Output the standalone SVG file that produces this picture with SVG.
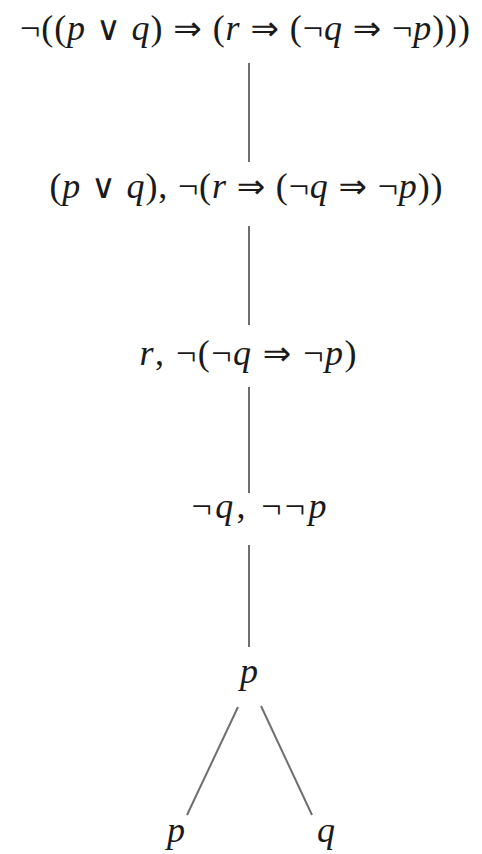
<svg xmlns="http://www.w3.org/2000/svg" width="482" height="854" viewBox="0 0 482 854">
<style>
.t{font-family:'Liberation Serif','Times New Roman',serif;font-size:36px;fill:#1a1a1a;text-anchor:middle}
.s{font-family:'DejaVu Sans',sans-serif;font-size:34px}
.i{font-style:italic}
.e{stroke:#6e6e6e;stroke-width:2;fill:none}
</style>
<rect width="482" height="854" fill="#fff"/>
<g id="connectors">
<line class="e" x1="249" y1="63" x2="249" y2="162"/>
<line class="e" x1="249" y1="226" x2="249" y2="325"/>
<line class="e" x1="249" y1="387" x2="249" y2="493"/>
<line class="e" x1="249" y1="545" x2="249" y2="647"/>
<line class="e" x1="238" y1="707" x2="187" y2="815"/>
<line class="e" x1="261" y1="706" x2="312" y2="815"/>
</g>
<g id="n1"><text class="t" x="245" y="40" textLength="450" lengthAdjust="spacing">¬((<tspan class="i">p</tspan> <tspan class="s">∨</tspan> <tspan class="i">q</tspan>) <tspan class="s">⇒</tspan> (<tspan class="i">r</tspan> <tspan class="s">⇒</tspan> (¬<tspan class="i">q</tspan> <tspan class="s">⇒</tspan> ¬<tspan class="i">p</tspan>)))</text></g>
<g id="n2"><text class="t" x="246" y="198" textLength="393" lengthAdjust="spacing">(<tspan class="i">p</tspan> <tspan class="s">∨</tspan> <tspan class="i">q</tspan>), ¬(<tspan class="i">r</tspan> <tspan class="s">⇒</tspan> (¬<tspan class="i">q</tspan> <tspan class="s">⇒</tspan> ¬<tspan class="i">p</tspan>))</text></g>
<g id="n3"><text class="t" x="248" y="365" textLength="217" lengthAdjust="spacing"><tspan class="i">r</tspan>, ¬(¬<tspan class="i">q</tspan> <tspan class="s">⇒</tspan> ¬<tspan class="i">p</tspan>)</text></g>
<g id="n4"><text class="t" x="259" y="518" textLength="135" lengthAdjust="spacing">¬<tspan class="i">q</tspan>, ¬¬<tspan class="i">p</tspan></text></g>
<g id="n5"><text class="t i" x="249" y="683">p</text></g>
<g id="n6"><text class="t i" x="176" y="842">p</text></g>
<g id="n7"><text class="t i" x="326" y="842">q</text></g>
</svg>
